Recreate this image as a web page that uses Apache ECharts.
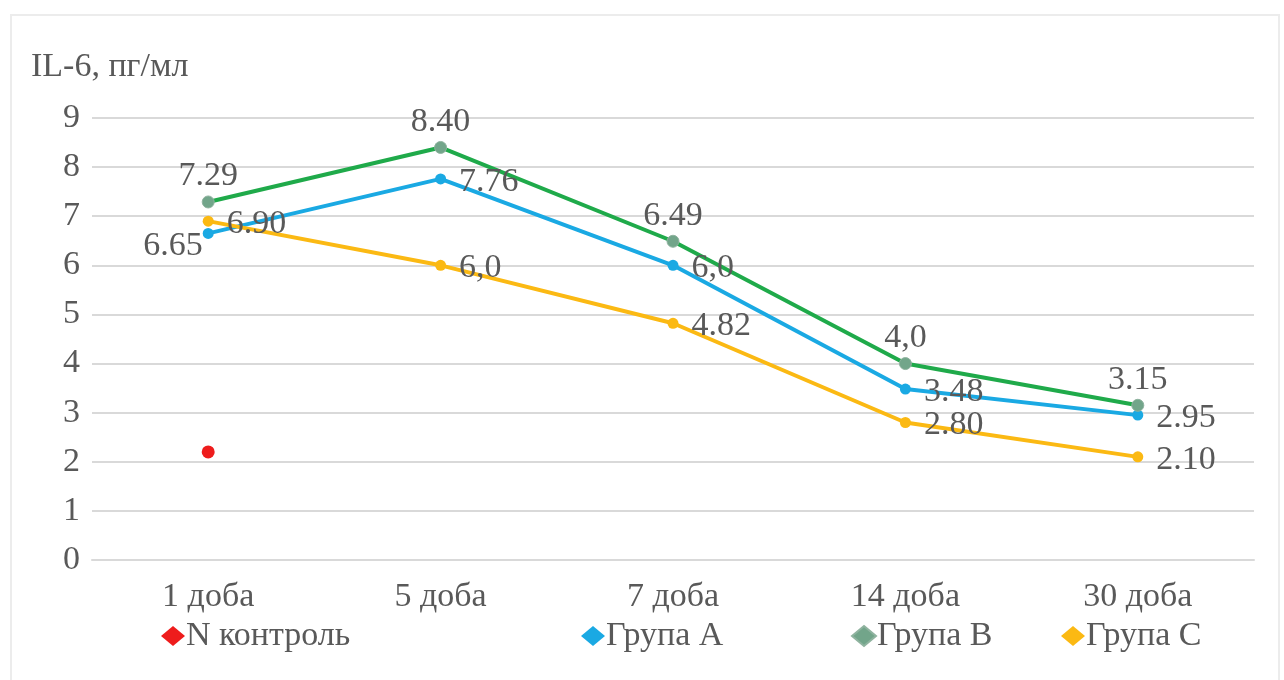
<!DOCTYPE html>
<html>
<head>
<meta charset="utf-8">
<script src="https://cdn.jsdelivr.net/npm/echarts@6/dist/echarts.min.js"></script>
<style>
  html, body { margin: 0; padding: 0; background: #fff; }
  #chart { width: 1284px; height: 680px; }
</style>
</head>
<body>
<div id="chart"></div>
<script>
// categories and values
var days = ['1 доба', '5 доба', '7 доба', '14 доба', '30 доба'];
var yTicks = [0, 1, 2, 3, 4, 5, 6, 7, 8, 9];
var controlN = [2.2, null, null, null, null];
var groupA = [6.65, 7.76, 6.0, 3.48, 2.95];
var groupB = [7.29, 8.40, 6.49, 4.0, 3.15];
var groupC = [6.90, 6.0, 4.82, 2.80, 2.10];
var labelsA = ['6.65', '7.76', '6,0', '3.48', '2.95'];
var labelsB = ['7.29', '8.40', '6.49', '4,0', '3.15'];
var labelsC = ['6.90', '6,0', '4.82', '2.80', '2.10'];

var serif = '"Liberation Serif", "DejaVu Serif", serif';
var textGrey = '#595959';
var fs = 34;

var chart = echarts.init(document.getElementById('chart'));

function lbl(texts, pos, dist, off) {
  return {
    show: true,
    position: pos,
    distance: dist,
    offset: off || [0, 0],
    fontFamily: serif,
    fontSize: fs,
    color: textGrey,
    formatter: function (p) { return texts[p.dataIndex]; }
  };
}

function legendAt(name, left, color) {
  return {
    data: [{ name: name, itemStyle: { color: color } }],
    left: left,
    top: 614,
    icon: 'diamond',
    itemWidth: 24,
    itemHeight: 20,
    itemGap: 0,
    textStyle: { fontFamily: serif, fontSize: fs, color: textGrey, padding: [0, 0, 0, -4] }
  };
}

// first point of Група A carries its label on the left, a bit lower
var dataA = groupA.map(function (v, i) {
  if (i === 0) {
    return { value: v, label: { position: 'left', distance: 0, offset: [0, 13] } };
  }
  return v;
});

chart.setOption({
  animation: false,
  backgroundColor: '#fff',
  graphic: [{
    type: 'rect',
    shape: { x: 11, y: 15, width: 1268, height: 680 },
    style: { fill: 'none', stroke: '#ececec', lineWidth: 2 },
    silent: true
  }],
  title: {
    text: 'IL-6, пг/мл',
    left: 26,
    top: 45,
    textStyle: { fontFamily: serif, fontSize: fs, fontWeight: 'normal', color: textGrey }
  },
  legend: [
    legendAt('N контроль', 156, '#ee1c1c'),
    legendAt('Група A', 576, '#1aa9e3'),
    legendAt('Група B', 846, '#72a58a'),
    legendAt('Група C', 1056, '#fbb913')
  ],
  grid: { left: 92, right: 30, top: 118, bottom: 120 },
  xAxis: {
    type: 'category',
    data: days,
    boundaryGap: true,
    axisLine: { show: true, lineStyle: { color: '#d9d9d9', width: 2 } },
    axisTick: { show: false },
    axisLabel: { fontFamily: serif, fontSize: fs, color: textGrey, margin: 20 }
  },
  yAxis: {
    type: 'value',
    min: yTicks[0],
    max: yTicks[yTicks.length - 1],
    interval: 1,
    axisLine: { show: false },
    axisTick: { show: false },
    axisLabel: { fontFamily: serif, fontSize: fs, color: textGrey, margin: 12 },
    splitLine: { lineStyle: { color: '#d9d9d9', width: 2 } }
  },
  series: [
    {
      name: 'N контроль',
      type: 'line',
      data: controlN,
      symbol: 'circle',
      symbolSize: 13,
      itemStyle: { color: '#ee1c1c' },
      lineStyle: { width: 0 }
    },
    {
      name: 'Група A',
      type: 'line',
      data: dataA,
      symbol: 'circle',
      symbolSize: 11,
      itemStyle: { color: '#1aa9e3' },
      lineStyle: { color: '#1aa9e3', width: 4 },
      label: lbl(labelsA, 'right', 13, [0, 3])
    },
    {
      name: 'Група B',
      type: 'line',
      data: groupB,
      symbol: 'circle',
      symbolSize: 12,
      itemStyle: { color: '#72a58a', borderColor: '#8fb39f', borderWidth: 1 },
      lineStyle: { color: '#1faa4a', width: 4 },
      label: lbl(labelsB, 'top', 2)
    },
    {
      name: 'Група C',
      type: 'line',
      data: groupC,
      symbol: 'circle',
      symbolSize: 11,
      itemStyle: { color: '#fbb913' },
      lineStyle: { color: '#fbb913', width: 4 },
      label: lbl(labelsC, 'right', 13, [0, 3])
    }
  ]
});
</script>
</body>
</html>
